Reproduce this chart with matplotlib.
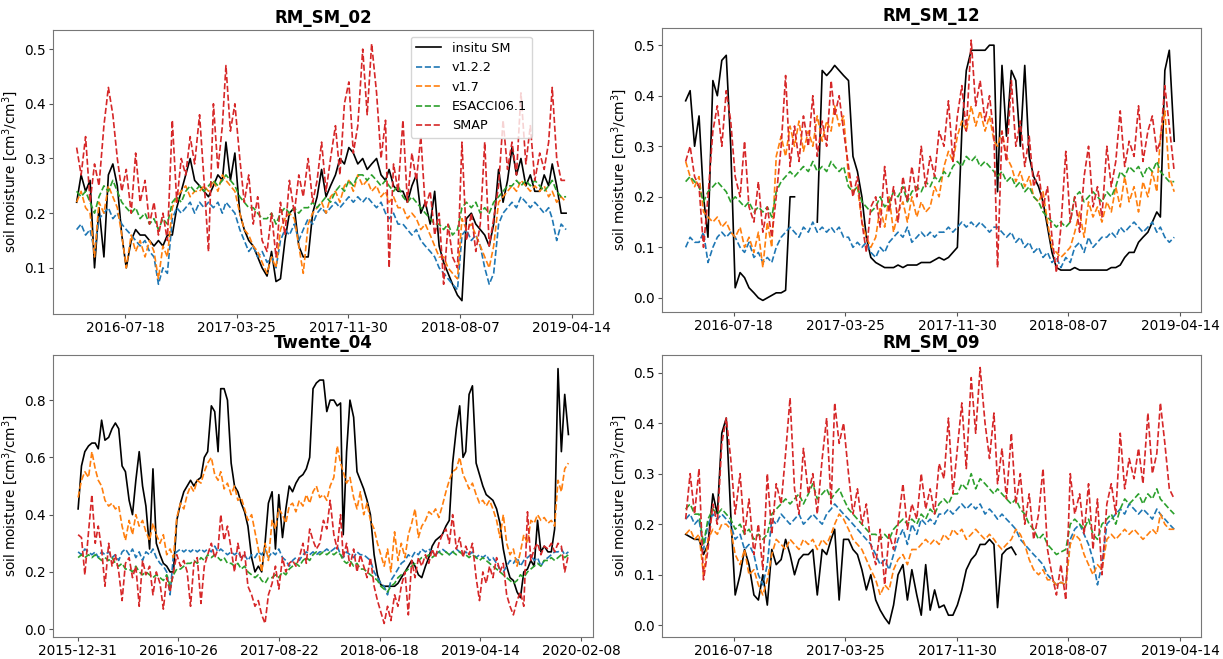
import numpy as np
import pandas as pd
import matplotlib
matplotlib.use("Agg")
import matplotlib.pyplot as plt
import matplotlib.dates as mdates

nan = np.nan

# values read every ~10 days (1st, 11th, 21st of each month)
# RM_SM_02, Apr 2016 - Apr 2019
sm02_insitu = [0.22, 0.27, 0.24, 0.26, 0.10, 0.21, 0.12, 0.27, 0.29, 0.25, 0.16, 0.10, 0.15, 0.17, 0.16, 0.16, 0.15, 0.14,
               0.15, 0.14, 0.16, 0.16, 0.21, 0.24, 0.27, 0.30, 0.26, 0.25, 0.24, 0.23, 0.25, 0.27, 0.26, 0.33, 0.26, 0.31,
               0.20, 0.17, 0.15, 0.14, 0.12, 0.10, 0.085, 0.13, 0.075, 0.08, 0.15, 0.20, 0.21, 0.14, 0.12, 0.12, 0.20, 0.23,
               0.28, 0.23, 0.25, 0.27, 0.30, 0.29, 0.32, 0.31, 0.29, 0.30, 0.28, 0.29, 0.30, 0.27, 0.26, 0.28, 0.25, 0.24,
               0.24, 0.22, 0.25, 0.27, 0.20, 0.22, 0.18, 0.24, 0.14, 0.11, 0.09, 0.07, 0.05, 0.04, 0.19, 0.20, 0.18, 0.17,
               0.16, 0.14, 0.18, 0.28, 0.22, 0.26, 0.32, 0.27, 0.30, 0.25, 0.27, 0.24, 0.24, 0.27, 0.25, 0.29, 0.25, 0.20,
               0.20]
sm02_v122 = [0.17, 0.18, 0.16, 0.17, 0.13, 0.19, 0.20, 0.21, 0.19, 0.20, 0.18, 0.17, 0.16, 0.15, 0.14, 0.15, 0.13, 0.12,
             0.07, 0.10, 0.09, 0.19, 0.21, 0.20, 0.21, 0.22, 0.20, 0.22, 0.21, 0.22, 0.21, 0.22, 0.20, 0.22, 0.21, 0.20,
             0.17, 0.15, 0.13, 0.14, 0.12, 0.13, 0.11, 0.12, 0.10, 0.15, 0.17, 0.16, 0.18, 0.15, 0.17, 0.19, 0.18, 0.20,
             0.21, 0.20, 0.21, 0.22, 0.21, 0.22, 0.23, 0.22, 0.23, 0.22, 0.23, 0.22, 0.21, 0.22, 0.20, 0.19, 0.20, 0.18,
             0.18, 0.17, 0.16, 0.17, 0.15, 0.14, 0.13, 0.12, 0.10, 0.09, 0.08, 0.07, 0.06, 0.16, 0.17, 0.15, 0.16, 0.14,
             0.10, 0.07, 0.09, 0.18, 0.20, 0.21, 0.22, 0.21, 0.23, 0.22, 0.21, 0.22, 0.21, 0.20, 0.21, 0.19, 0.15, 0.18,
             0.17]
sm02_v17 = [0.22, 0.24, 0.21, 0.20, 0.12, 0.22, 0.20, 0.25, 0.23, 0.21, 0.16, 0.10, 0.16, 0.13, 0.15, 0.12, 0.15, 0.13,
            0.08, 0.14, 0.12, 0.21, 0.23, 0.24, 0.25, 0.23, 0.24, 0.24, 0.25, 0.24, 0.26, 0.24, 0.27, 0.26, 0.25, 0.24,
            0.20, 0.17, 0.16, 0.14, 0.13, 0.11, 0.09, 0.12, 0.10, 0.17, 0.19, 0.20, 0.19, 0.14, 0.09, 0.18, 0.20, 0.21,
            0.22, 0.20, 0.23, 0.24, 0.22, 0.25, 0.26, 0.24, 0.27, 0.25, 0.26, 0.24, 0.25, 0.23, 0.24, 0.22, 0.23, 0.21,
            0.21, 0.19, 0.20, 0.19, 0.17, 0.18, 0.16, 0.14, 0.12, 0.12, 0.10, 0.09, 0.08, 0.19, 0.17, 0.18, 0.16, 0.14,
            0.12, 0.10, 0.14, 0.22, 0.23, 0.24, 0.25, 0.24, 0.26, 0.25, 0.24, 0.25, 0.24, 0.25, 0.23, 0.24, 0.22, 0.23,
            0.22]
sm02_cci = [0.24, 0.23, 0.24, 0.22, 0.20, 0.23, 0.25, 0.24, 0.26, 0.24, 0.22, 0.21, 0.20, 0.21, 0.19, 0.20, 0.18, 0.19,
            0.17, 0.19, 0.18, 0.22, 0.23, 0.22, 0.24, 0.25, 0.24, 0.25, 0.24, 0.25, 0.26, 0.25, 0.26, 0.27, 0.26, 0.25,
            0.23, 0.22, 0.21, 0.21, 0.20, 0.19, 0.19, 0.20, 0.18, 0.20, 0.21, 0.20, 0.21, 0.20, 0.21, 0.21, 0.22, 0.21,
            0.22, 0.23, 0.22, 0.24, 0.25, 0.24, 0.26, 0.25, 0.27, 0.27, 0.26, 0.27, 0.26, 0.25, 0.26, 0.25, 0.24, 0.25,
            0.23, 0.22, 0.23, 0.22, 0.21, 0.20, 0.19, 0.18, 0.18, 0.17, 0.18, 0.16, 0.17, 0.21, 0.22, 0.21, 0.22, 0.20,
            0.21, 0.20, 0.22, 0.23, 0.24, 0.25, 0.25, 0.26, 0.25, 0.26, 0.25, 0.26, 0.25, 0.24, 0.25, 0.26, 0.24, 0.23,
            0.23]
sm02_smap = [0.32, 0.27, 0.34, 0.22, 0.29, 0.25, 0.36, 0.43, 0.38, 0.30, 0.24, 0.28, 0.20, 0.31, 0.22, 0.26, 0.18, 0.22,
             0.16, 0.20, 0.15, 0.37, 0.22, 0.30, 0.27, 0.34, 0.29, 0.38, 0.26, 0.13, 0.40, 0.28, 0.36, 0.47, 0.35, 0.40,
             0.30, 0.22, 0.27, 0.18, 0.23, 0.15, 0.13, 0.20, 0.12, 0.22, 0.16, 0.26, 0.20, 0.27, 0.23, 0.30, 0.22, 0.26,
             0.33, 0.24, 0.30, 0.36, 0.27, 0.40, 0.44, 0.31, 0.36, 0.50, 0.38, 0.51, 0.42, 0.30, 0.37, 0.10, 0.29, 0.24,
             0.37, 0.22, 0.31, 0.26, 0.34, 0.21, 0.24, 0.16, 0.20, 0.07, 0.18, 0.12, 0.10, 0.33, 0.15, 0.20, 0.13, 0.18,
             0.33, 0.14, 0.19, 0.25, 0.37, 0.28, 0.33, 0.27, 0.42, 0.29, 0.36, 0.26, 0.31, 0.28, 0.33, 0.43, 0.30, 0.26,
             0.26]

# RM_SM_12, Apr 2016 - Apr 2019
sm12_insitu = [0.39, 0.41, 0.30, 0.36, 0.20, 0.12, 0.43, 0.40, 0.47, 0.48, 0.30, 0.02, 0.05, 0.04, 0.02, 0.01, 0.0, -0.005,
               0.0, 0.005, 0.01, 0.01, 0.015, 0.20, 0.20, nan, nan, nan, nan, 0.15, 0.45, 0.44, 0.45, 0.46, 0.45, 0.44,
               0.43, 0.28, 0.25, 0.20, 0.12, 0.08, 0.07, 0.065, 0.06, 0.06, 0.06, 0.065, 0.06, 0.065, 0.065, 0.065, 0.07, 0.07,
               0.07, 0.075, 0.08, 0.075, 0.08, 0.09, 0.10, 0.33, 0.45, 0.49, 0.49, 0.49, 0.49, 0.50, 0.50, 0.21, 0.46, 0.32,
               0.45, 0.43, 0.30, 0.46, 0.28, 0.24, 0.22, 0.19, 0.14, 0.09, 0.06, 0.055, 0.055, 0.055, 0.06, 0.055, 0.055, 0.055,
               0.055, 0.055, 0.055, 0.055, 0.06, 0.06, 0.065, 0.08, 0.09, 0.09, 0.11, 0.12, 0.13, 0.15, 0.17, 0.16, 0.45, 0.49,
               0.31]
sm12_v122 = [0.10, 0.12, 0.11, 0.11, 0.13, 0.07, 0.10, 0.12, 0.13, 0.12, 0.13, 0.12, 0.10, 0.09, 0.11, 0.08, 0.09, 0.07,
             0.08, 0.07, 0.10, 0.12, 0.13, 0.14, 0.13, 0.12, 0.14, 0.13, 0.15, 0.13, 0.14, 0.13, 0.14, 0.13, 0.14, 0.12,
             0.12, 0.10, 0.11, 0.10, 0.11, 0.09, 0.08, 0.10, 0.09, 0.11, 0.12, 0.13, 0.12, 0.14, 0.11, 0.12, 0.13, 0.12,
             0.13, 0.12, 0.13, 0.13, 0.14, 0.13, 0.14, 0.15, 0.14, 0.15, 0.14, 0.15, 0.14, 0.13, 0.14, 0.14, 0.13, 0.12,
             0.13, 0.11, 0.12, 0.10, 0.11, 0.09, 0.10, 0.08, 0.09, 0.07, 0.08, 0.06, 0.08, 0.07, 0.10, 0.11, 0.09, 0.12,
             0.10, 0.11, 0.12, 0.12, 0.13, 0.12, 0.14, 0.13, 0.14, 0.15, 0.14, 0.13, 0.14, 0.15, 0.13, 0.14, 0.12, 0.11,
             0.12]
sm12_v17 = [0.27, 0.24, 0.22, 0.24, 0.17, 0.16, 0.15, 0.16, 0.14, 0.15, 0.13, 0.12, 0.14, 0.10, 0.12, 0.09, 0.13, 0.06,
            0.15, 0.10, 0.28, 0.32, 0.28, 0.34, 0.30, 0.35, 0.29, 0.33, 0.30, 0.36, 0.31, 0.35, 0.33, 0.38, 0.34, 0.36,
            0.24, 0.21, 0.22, 0.15, 0.12, 0.10, 0.12, 0.18, 0.14, 0.20, 0.13, 0.17, 0.19, 0.15, 0.20, 0.16, 0.19, 0.17,
            0.18, 0.22, 0.20, 0.26, 0.29, 0.27, 0.32, 0.35, 0.33, 0.38, 0.34, 0.37, 0.33, 0.36, 0.31, 0.30, 0.33, 0.28,
            0.26, 0.23, 0.25, 0.22, 0.24, 0.20, 0.19, 0.21, 0.15, 0.10, 0.09, 0.08, 0.09, 0.10, 0.13, 0.17, 0.12, 0.19,
            0.16, 0.18, 0.15, 0.19, 0.17, 0.22, 0.18, 0.24, 0.19, 0.22, 0.17, 0.23, 0.20, 0.25, 0.21, 0.32, 0.37, 0.24,
            0.21]
sm12_cci = [0.23, 0.24, 0.23, 0.22, 0.19, 0.21, 0.22, 0.23, 0.22, 0.21, 0.19, 0.20, 0.19, 0.18, 0.19, 0.17, 0.18, 0.17,
            0.18, 0.16, 0.21, 0.23, 0.24, 0.25, 0.24, 0.25, 0.26, 0.25, 0.27, 0.25, 0.26, 0.25, 0.27, 0.26, 0.25, 0.26,
            0.22, 0.21, 0.22, 0.19, 0.18, 0.17, 0.18, 0.20, 0.18, 0.19, 0.21, 0.20, 0.22, 0.19, 0.21, 0.22, 0.21, 0.23,
            0.22, 0.24, 0.23, 0.25, 0.24, 0.26, 0.27, 0.26, 0.28, 0.27, 0.28, 0.26, 0.27, 0.26, 0.25, 0.24, 0.25, 0.23,
            0.24, 0.22, 0.23, 0.21, 0.22, 0.20, 0.19, 0.17, 0.16, 0.15, 0.14, 0.15, 0.14, 0.15, 0.20, 0.21, 0.19, 0.20,
            0.21, 0.20, 0.19, 0.21, 0.20, 0.22, 0.25, 0.24, 0.26, 0.25, 0.26, 0.24, 0.26, 0.25, 0.27, 0.25, 0.24, 0.23,
            0.23]
sm12_smap = [0.27, 0.30, 0.24, 0.22, 0.10, 0.20, 0.33, 0.38, 0.30, 0.41, 0.35, 0.24, 0.20, 0.31, 0.18, 0.15, 0.23, 0.13,
             0.18, 0.12, 0.20, 0.30, 0.44, 0.26, 0.34, 0.27, 0.36, 0.30, 0.40, 0.28, 0.35, 0.30, 0.43, 0.36, 0.40, 0.33,
             0.26, 0.20, 0.24, 0.15, 0.09, 0.18, 0.20, 0.14, 0.26, 0.17, 0.22, 0.15, 0.24, 0.19, 0.26, 0.20, 0.30, 0.22,
             0.28, 0.24, 0.33, 0.30, 0.39, 0.27, 0.36, 0.42, 0.33, 0.51, 0.38, 0.43, 0.35, 0.40, 0.32, 0.06, 0.33, 0.27,
             0.43, 0.30, 0.35, 0.26, 0.32, 0.22, 0.25, 0.18, 0.22, 0.12, 0.05, 0.14, 0.29, 0.15, 0.20, 0.13, 0.24, 0.30,
             0.18, 0.22, 0.16, 0.30, 0.22, 0.27, 0.37, 0.26, 0.31, 0.28, 0.38, 0.27, 0.33, 0.36, 0.29, 0.31, 0.42, 0.34,
             0.25]

# Twente_04, Jan 2016 - Jan 2020
tw04_insitu = [0.42, 0.57, 0.62, 0.64, 0.65, 0.65, 0.63, 0.73, 0.66, 0.67, 0.70, 0.72, 0.70, 0.57, 0.55, 0.45, 0.40, 0.52,
               0.62, 0.50, 0.43, 0.28, 0.56, 0.30, 0.26, 0.23, 0.22, 0.20, 0.20, 0.38, 0.44, 0.48, 0.50, 0.52, 0.50, 0.52,
               0.53, 0.60, 0.62, 0.78, 0.76, 0.62, 0.84, 0.84, 0.80, 0.58, 0.50, 0.48, 0.44, 0.41, 0.36, 0.25, 0.20, 0.22,
               0.20, 0.30, 0.44, 0.48, 0.28, 0.47, 0.32, 0.42, 0.50, 0.48, 0.51, 0.53, 0.54, 0.56, 0.60, 0.84, 0.86, 0.87,
               0.87, 0.76, 0.80, 0.80, 0.78, 0.79, 0.33, 0.62, 0.80, 0.74, 0.55, 0.52, 0.49, 0.45, 0.40, 0.26, 0.19, 0.155,
               0.15, 0.15, 0.15, 0.15, 0.16, 0.18, 0.20, 0.22, 0.24, 0.22, 0.19, 0.18, 0.22, 0.25, 0.29, 0.31, 0.32, 0.33,
               0.36, 0.38, 0.58, 0.70, 0.78, 0.60, 0.62, 0.82, 0.85, 0.58, 0.54, 0.50, 0.47, 0.46, 0.45, 0.42, 0.37, 0.28,
               0.22, 0.18, 0.17, 0.13, 0.11, 0.20, 0.21, 0.24, 0.22, 0.38, 0.27, 0.29, 0.27, 0.27, 0.35, 0.91, 0.62, 0.82,
               0.68]
tw04_v122 = [0.27, 0.26, 0.28, 0.27, 0.26, 0.27, 0.25, 0.27, 0.26, 0.27, 0.25, 0.26, 0.24, 0.27, 0.28, 0.26, 0.28, 0.25,
             0.27, 0.24, 0.27, 0.26, 0.28, 0.25, 0.23, 0.22, 0.20, 0.12, 0.26, 0.27, 0.28, 0.27, 0.28, 0.27, 0.28, 0.27,
             0.28, 0.27, 0.28, 0.27, 0.29, 0.27, 0.28, 0.27, 0.26, 0.27, 0.26, 0.27, 0.25, 0.26, 0.24, 0.26, 0.25, 0.27,
             0.26, 0.28, 0.25, 0.27, 0.26, 0.28, 0.25, 0.24, 0.22, 0.24, 0.25, 0.24, 0.26, 0.27, 0.26, 0.27, 0.26, 0.27,
             0.27, 0.28, 0.27, 0.28, 0.29, 0.26, 0.25, 0.27, 0.26, 0.25, 0.27, 0.26, 0.26, 0.25, 0.24, 0.20, 0.18, 0.16,
             0.15, 0.12, 0.17, 0.19, 0.21, 0.23, 0.24, 0.26, 0.25, 0.27, 0.26, 0.28, 0.27, 0.28, 0.27, 0.26, 0.27, 0.28,
             0.27, 0.26, 0.27, 0.28, 0.27, 0.26, 0.27, 0.26, 0.27, 0.25, 0.26, 0.25, 0.26, 0.24, 0.25, 0.23, 0.21, 0.20,
             0.22, 0.24, 0.23, 0.25, 0.22, 0.24, 0.25, 0.26, 0.24, 0.25, 0.22, 0.24, 0.25, 0.26, 0.27, 0.27, 0.28, 0.26,
             0.27]
tw04_v17 = [0.46, 0.52, 0.55, 0.53, 0.62, 0.56, 0.52, 0.50, 0.45, 0.43, 0.44, 0.42, 0.43, 0.36, 0.31, 0.38, 0.33, 0.40,
            0.36, 0.38, 0.34, 0.31, 0.37, 0.33, 0.30, 0.33, 0.26, 0.28, 0.25, 0.39, 0.44, 0.42, 0.47, 0.50, 0.48, 0.52,
            0.51, 0.55, 0.58, 0.60, 0.54, 0.52, 0.55, 0.49, 0.51, 0.47, 0.50, 0.45, 0.46, 0.42, 0.38, 0.40, 0.34, 0.28,
            0.20, 0.30, 0.24, 0.38, 0.35, 0.42, 0.40, 0.37, 0.43, 0.44, 0.41, 0.45, 0.43, 0.47, 0.44, 0.48, 0.50, 0.46,
            0.47, 0.45, 0.50, 0.53, 0.64, 0.58, 0.55, 0.51, 0.53, 0.46, 0.42, 0.48, 0.40, 0.44, 0.38, 0.35, 0.30, 0.26,
            0.22, 0.28, 0.20, 0.34, 0.24, 0.30, 0.25, 0.33, 0.37, 0.42, 0.32, 0.36, 0.38, 0.41, 0.40, 0.42, 0.39, 0.43,
            0.48, 0.52, 0.55, 0.56, 0.60, 0.54, 0.52, 0.49, 0.51, 0.47, 0.44, 0.45, 0.43, 0.45, 0.42, 0.38, 0.32, 0.40,
            0.30, 0.26, 0.28, 0.22, 0.27, 0.33, 0.30, 0.38, 0.37, 0.40, 0.38, 0.39, 0.37, 0.38, 0.36, 0.52, 0.48, 0.56,
            0.58]
tw04_cci = [0.25, 0.26, 0.25, 0.26, 0.25, 0.26, 0.25, 0.24, 0.25, 0.24, 0.25, 0.23, 0.22, 0.23, 0.21, 0.21, 0.20, 0.22,
            0.20, 0.19, 0.20, 0.19, 0.18, 0.19, 0.18, 0.17, 0.19, 0.15, 0.19, 0.21, 0.21, 0.22, 0.23, 0.23, 0.24, 0.23,
            0.25, 0.24, 0.26, 0.25, 0.26, 0.25, 0.24, 0.25, 0.23, 0.23, 0.22, 0.23, 0.21, 0.22, 0.20, 0.19, 0.18, 0.19,
            0.17, 0.16, 0.18, 0.18, 0.19, 0.18, 0.20, 0.19, 0.21, 0.22, 0.23, 0.22, 0.24, 0.25, 0.24, 0.26, 0.27, 0.26,
            0.27, 0.26, 0.27, 0.26, 0.27, 0.26, 0.24, 0.23, 0.24, 0.22, 0.23, 0.21, 0.21, 0.20, 0.19, 0.18, 0.17, 0.15,
            0.14, 0.13, 0.15, 0.16, 0.18, 0.19, 0.20, 0.21, 0.22, 0.23, 0.24, 0.25, 0.25, 0.26, 0.25, 0.26, 0.27, 0.26,
            0.27, 0.26, 0.27, 0.26, 0.27, 0.26, 0.26, 0.25, 0.26, 0.25, 0.24, 0.25, 0.24, 0.23, 0.22, 0.21, 0.20, 0.19,
            0.18, 0.17, 0.16, 0.17, 0.19, 0.18, 0.20, 0.21, 0.22, 0.23, 0.22, 0.24, 0.24, 0.25, 0.24, 0.25, 0.26, 0.25,
            0.26]
tw04_smap = [0.33, 0.32, 0.19, 0.34, 0.47, 0.30, 0.36, 0.28, 0.15, 0.30, 0.22, 0.26, 0.20, 0.10, 0.23, 0.25, 0.18, 0.22,
             0.08, 0.24, 0.19, 0.22, 0.12, 0.20, 0.16, 0.07, 0.18, 0.13, 0.20, 0.26, 0.22, 0.24, 0.20, 0.08, 0.23, 0.25,
             0.09, 0.22, 0.26, 0.30, 0.25, 0.28, 0.40, 0.31, 0.36, 0.28, 0.20, 0.30, 0.24, 0.27, 0.15, 0.12, 0.08, 0.10,
             0.05, 0.02, 0.12, 0.16, 0.22, 0.14, 0.25, 0.20, 0.23, 0.24, 0.22, 0.25, 0.30, 0.23, 0.35, 0.31, 0.28, 0.30,
             0.38, 0.35, 0.45, 0.33, 0.28, 0.40, 0.25, 0.30, 0.22, 0.28, 0.20, 0.26, 0.22, 0.18, 0.25, 0.15, 0.10, 0.06,
             0.02, 0.08, 0.03, 0.12, 0.08, 0.15, 0.20, 0.05, 0.24, 0.18, 0.25, 0.22, 0.26, 0.23, 0.28, 0.25, 0.30, 0.33,
             0.35, 0.30, 0.40, 0.28, 0.32, 0.25, 0.29, 0.26, 0.30, 0.18, 0.10, 0.20, 0.16, 0.22, 0.18, 0.25, 0.20, 0.23,
             0.12, 0.08, 0.05, 0.10, 0.13, 0.08, 0.41, 0.24, 0.28, 0.30, 0.26, 0.29, 0.28, 0.30, 0.27, 0.30, 0.29, 0.20,
             0.26]

# RM_SM_09, Apr 2016 - Apr 2019 (in situ ends Apr 2018)
sm09_insitu = [0.18, 0.175, 0.17, 0.17, 0.14, 0.16, 0.26, 0.22, 0.38, 0.41, 0.22, 0.06, 0.10, 0.15, 0.12, 0.06, 0.05, 0.10,
               0.04, 0.15, 0.12, 0.13, 0.17, 0.14, 0.10, 0.13, 0.14, 0.14, 0.15, 0.06, 0.15, 0.14, 0.17, 0.19, 0.05, 0.17,
               0.17, 0.15, 0.14, 0.11, 0.07, 0.10, 0.05, 0.03, 0.015, 0.003, 0.04, 0.10, 0.12, 0.05, 0.11, 0.06, 0.02, 0.12,
               0.03, 0.07, 0.035, 0.04, 0.02, 0.02, 0.04, 0.07, 0.11, 0.13, 0.14, 0.16, 0.16, 0.17, 0.16, 0.035, 0.14, 0.15,
               0.155, 0.14]
sm09_v122 = [0.21, 0.22, 0.20, 0.21, 0.15, 0.20, 0.22, 0.21, 0.22, 0.21, 0.20, 0.17, 0.18, 0.15, 0.16, 0.14, 0.10, 0.08,
             0.12, 0.21, 0.20, 0.22, 0.21, 0.20, 0.21, 0.22, 0.20, 0.21, 0.22, 0.21, 0.20, 0.22, 0.23, 0.24, 0.23, 0.22,
             0.21, 0.20, 0.19, 0.18, 0.17, 0.16, 0.14, 0.12, 0.13, 0.11, 0.14, 0.17, 0.19, 0.16, 0.20, 0.18, 0.21, 0.20,
             0.21, 0.20, 0.22, 0.22, 0.23, 0.22, 0.23, 0.24, 0.23, 0.24, 0.23, 0.24, 0.22, 0.23, 0.22, 0.21, 0.22, 0.21,
             0.20, 0.19, 0.17, 0.16, 0.15, 0.14, 0.13, 0.12, 0.10, 0.09, 0.08, 0.085, 0.08, 0.17, 0.19, 0.20, 0.18, 0.16,
             0.13, 0.08, 0.12, 0.20, 0.21, 0.22, 0.23, 0.22, 0.24, 0.23, 0.22, 0.23, 0.22, 0.21, 0.23, 0.22, 0.21, 0.20,
             0.19]
sm09_v17 = [0.18, 0.19, 0.17, 0.18, 0.10, 0.17, 0.19, 0.18, 0.20, 0.20, 0.19, 0.14, 0.12, 0.15, 0.10, 0.11, 0.08, 0.06,
            0.09, 0.14, 0.17, 0.16, 0.15, 0.17, 0.16, 0.15, 0.17, 0.16, 0.17, 0.15, 0.17, 0.16, 0.18, 0.20, 0.22, 0.21,
            0.19, 0.17, 0.16, 0.15, 0.13, 0.11, 0.09, 0.06, 0.08, 0.07, 0.11, 0.13, 0.14, 0.12, 0.15, 0.15, 0.16, 0.17,
            0.16, 0.17, 0.16, 0.18, 0.17, 0.19, 0.18, 0.19, 0.17, 0.18, 0.19, 0.18, 0.17, 0.18, 0.17, 0.16, 0.15, 0.16,
            0.17, 0.19, 0.18, 0.16, 0.13, 0.11, 0.10, 0.11, 0.09, 0.09, 0.08, 0.085, 0.08, 0.16, 0.18, 0.17, 0.14, 0.12,
            0.10, 0.12, 0.11, 0.17, 0.18, 0.17, 0.18, 0.19, 0.18, 0.19, 0.18, 0.17, 0.18, 0.19, 0.18, 0.22, 0.20, 0.19,
            0.19]
sm09_cci = [0.23, 0.24, 0.22, 0.22, 0.16, 0.21, 0.23, 0.22, 0.23, 0.22, 0.21, 0.19, 0.20, 0.18, 0.19, 0.17, 0.18, 0.17,
            0.18, 0.22, 0.23, 0.24, 0.25, 0.24, 0.25, 0.26, 0.24, 0.26, 0.28, 0.25, 0.26, 0.27, 0.25, 0.26, 0.27, 0.25,
            0.23, 0.22, 0.21, 0.20, 0.19, 0.18, 0.18, 0.17, 0.18, 0.17, 0.19, 0.20, 0.21, 0.20, 0.21, 0.20, 0.22, 0.21,
            0.23, 0.22, 0.24, 0.25, 0.24, 0.26, 0.26, 0.28, 0.27, 0.30, 0.27, 0.29, 0.28, 0.27, 0.26, 0.27, 0.26, 0.25,
            0.24, 0.25, 0.23, 0.22, 0.20, 0.19, 0.17, 0.18, 0.16, 0.15, 0.14, 0.145, 0.15, 0.20, 0.21, 0.20, 0.19, 0.21,
            0.18, 0.17, 0.20, 0.21, 0.22, 0.20, 0.23, 0.25, 0.24, 0.25, 0.26, 0.24, 0.26, 0.25, 0.27, 0.25, 0.24, 0.23,
            0.22]
sm09_smap = [0.21, 0.30, 0.22, 0.31, 0.09, 0.15, 0.24, 0.20, 0.36, 0.41, 0.33, 0.22, 0.30, 0.18, 0.25, 0.14, 0.20, 0.11,
             0.30, 0.18, 0.28, 0.24, 0.34, 0.45, 0.27, 0.22, 0.35, 0.26, 0.30, 0.22, 0.33, 0.41, 0.24, 0.44, 0.36, 0.40,
             0.30, 0.22, 0.27, 0.20, 0.24, 0.16, 0.12, 0.19, 0.08, 0.18, 0.15, 0.20, 0.28, 0.19, 0.24, 0.21, 0.30, 0.23,
             0.27, 0.22, 0.32, 0.29, 0.41, 0.26, 0.35, 0.44, 0.31, 0.49, 0.38, 0.51, 0.40, 0.33, 0.42, 0.28, 0.35, 0.25,
             0.38, 0.24, 0.30, 0.20, 0.26, 0.17, 0.22, 0.31, 0.15, 0.10, 0.06, 0.12, 0.05, 0.30, 0.22, 0.26, 0.18, 0.28,
             0.15, 0.25, 0.10, 0.24, 0.28, 0.22, 0.38, 0.27, 0.33, 0.29, 0.35, 0.28, 0.42, 0.30, 0.34, 0.44, 0.36, 0.27,
             0.25]

labels = ["insitu SM", "v1.2.2", "v1.7", "ESACCI06.1", "SMAP"]
colors = ["black", "tab:blue", "tab:orange", "tab:green", "tab:red"]
styles = ["-", "--", "--", "--", "--"]

rm_ticks = ["2016-07-18", "2017-03-25", "2017-11-30", "2018-08-07", "2019-04-14"]
tw_ticks = ["2015-12-31", "2016-10-26", "2017-08-22", "2018-06-18", "2019-04-14", "2020-02-08"]


def dates_from(year, month, n):
    out = []
    for i in range(n):
        k = month - 1 + i // 3
        out.append(pd.Timestamp(year + k // 12, k % 12 + 1, (1, 11, 21)[i % 3]))
    return out


panels = [
    ("RM_SM_02", [0.0433, 0.5235, 0.4415, 0.4310], (2016, 4),
     [sm02_insitu, sm02_v122, sm02_v17, sm02_cci, sm02_smap], rm_ticks,
     ("2016-02-08", "2019-05-31"), (0.0156, 0.535), [0.1, 0.2, 0.3, 0.4, 0.5]),
    ("RM_SM_12", [0.5413, 0.5265, 0.4407, 0.4310], (2016, 4),
     [sm12_insitu, sm12_v122, sm12_v17, sm12_cci, sm12_smap], rm_ticks,
     ("2016-02-08", "2019-05-31"), (-0.028, 0.534), [0.0, 0.1, 0.2, 0.3, 0.4, 0.5]),
    ("Twente_04", [0.0433, 0.0335, 0.4415, 0.4280], (2016, 1),
     [tw04_insitu, tw04_v122, tw04_v17, tw04_cci, tw04_smap], tw_ticks,
     ("2015-10-18", "2020-03-14"), (-0.027, 0.958), [0.0, 0.2, 0.4, 0.6, 0.8]),
    ("RM_SM_09", [0.5413, 0.0335, 0.4407, 0.4280], (2016, 4),
     [sm09_insitu, sm09_v122, sm09_v17, sm09_cci, sm09_smap], rm_ticks,
     ("2016-02-08", "2019-05-31"), (-0.023, 0.535), [0.0, 0.1, 0.2, 0.3, 0.4, 0.5]),
]

fig = plt.figure(figsize=(12.23, 6.59), dpi=100)

for i, (title, rect, start, series, ticks, xlim, ylim, yticks) in enumerate(panels):
    ax = fig.add_axes(rect)
    for vals, lab, col, ls in zip(series, labels, colors, styles):
        ax.plot(dates_from(start[0], start[1], len(vals)), vals, color=col, ls=ls, lw=1.2, label=lab)
    ax.set_title(title, fontsize=12, fontweight="bold", pad=5)
    ax.set_ylabel("soil moisture [cm$^3$/cm$^3$]", fontsize=9.8, labelpad=3)
    ax.set_xticks(pd.to_datetime(ticks))
    ax.xaxis.set_major_formatter(mdates.DateFormatter("%Y-%m-%d"))
    ax.set_xlim(pd.Timestamp(xlim[0]), pd.Timestamp(xlim[1]))
    ax.set_ylim(*ylim)
    ax.set_yticks(yticks)
    ax.tick_params(labelsize=9.8, color="#555555", length=3, pad=2)
    for sp in ax.spines.values():
        sp.set_color("#777777")
    if i == 0:
        ax.legend(loc="upper right", bbox_to_anchor=(0.887, 0.976), borderaxespad=0, fontsize=9.2)

fig.savefig("out.png", dpi=100)
